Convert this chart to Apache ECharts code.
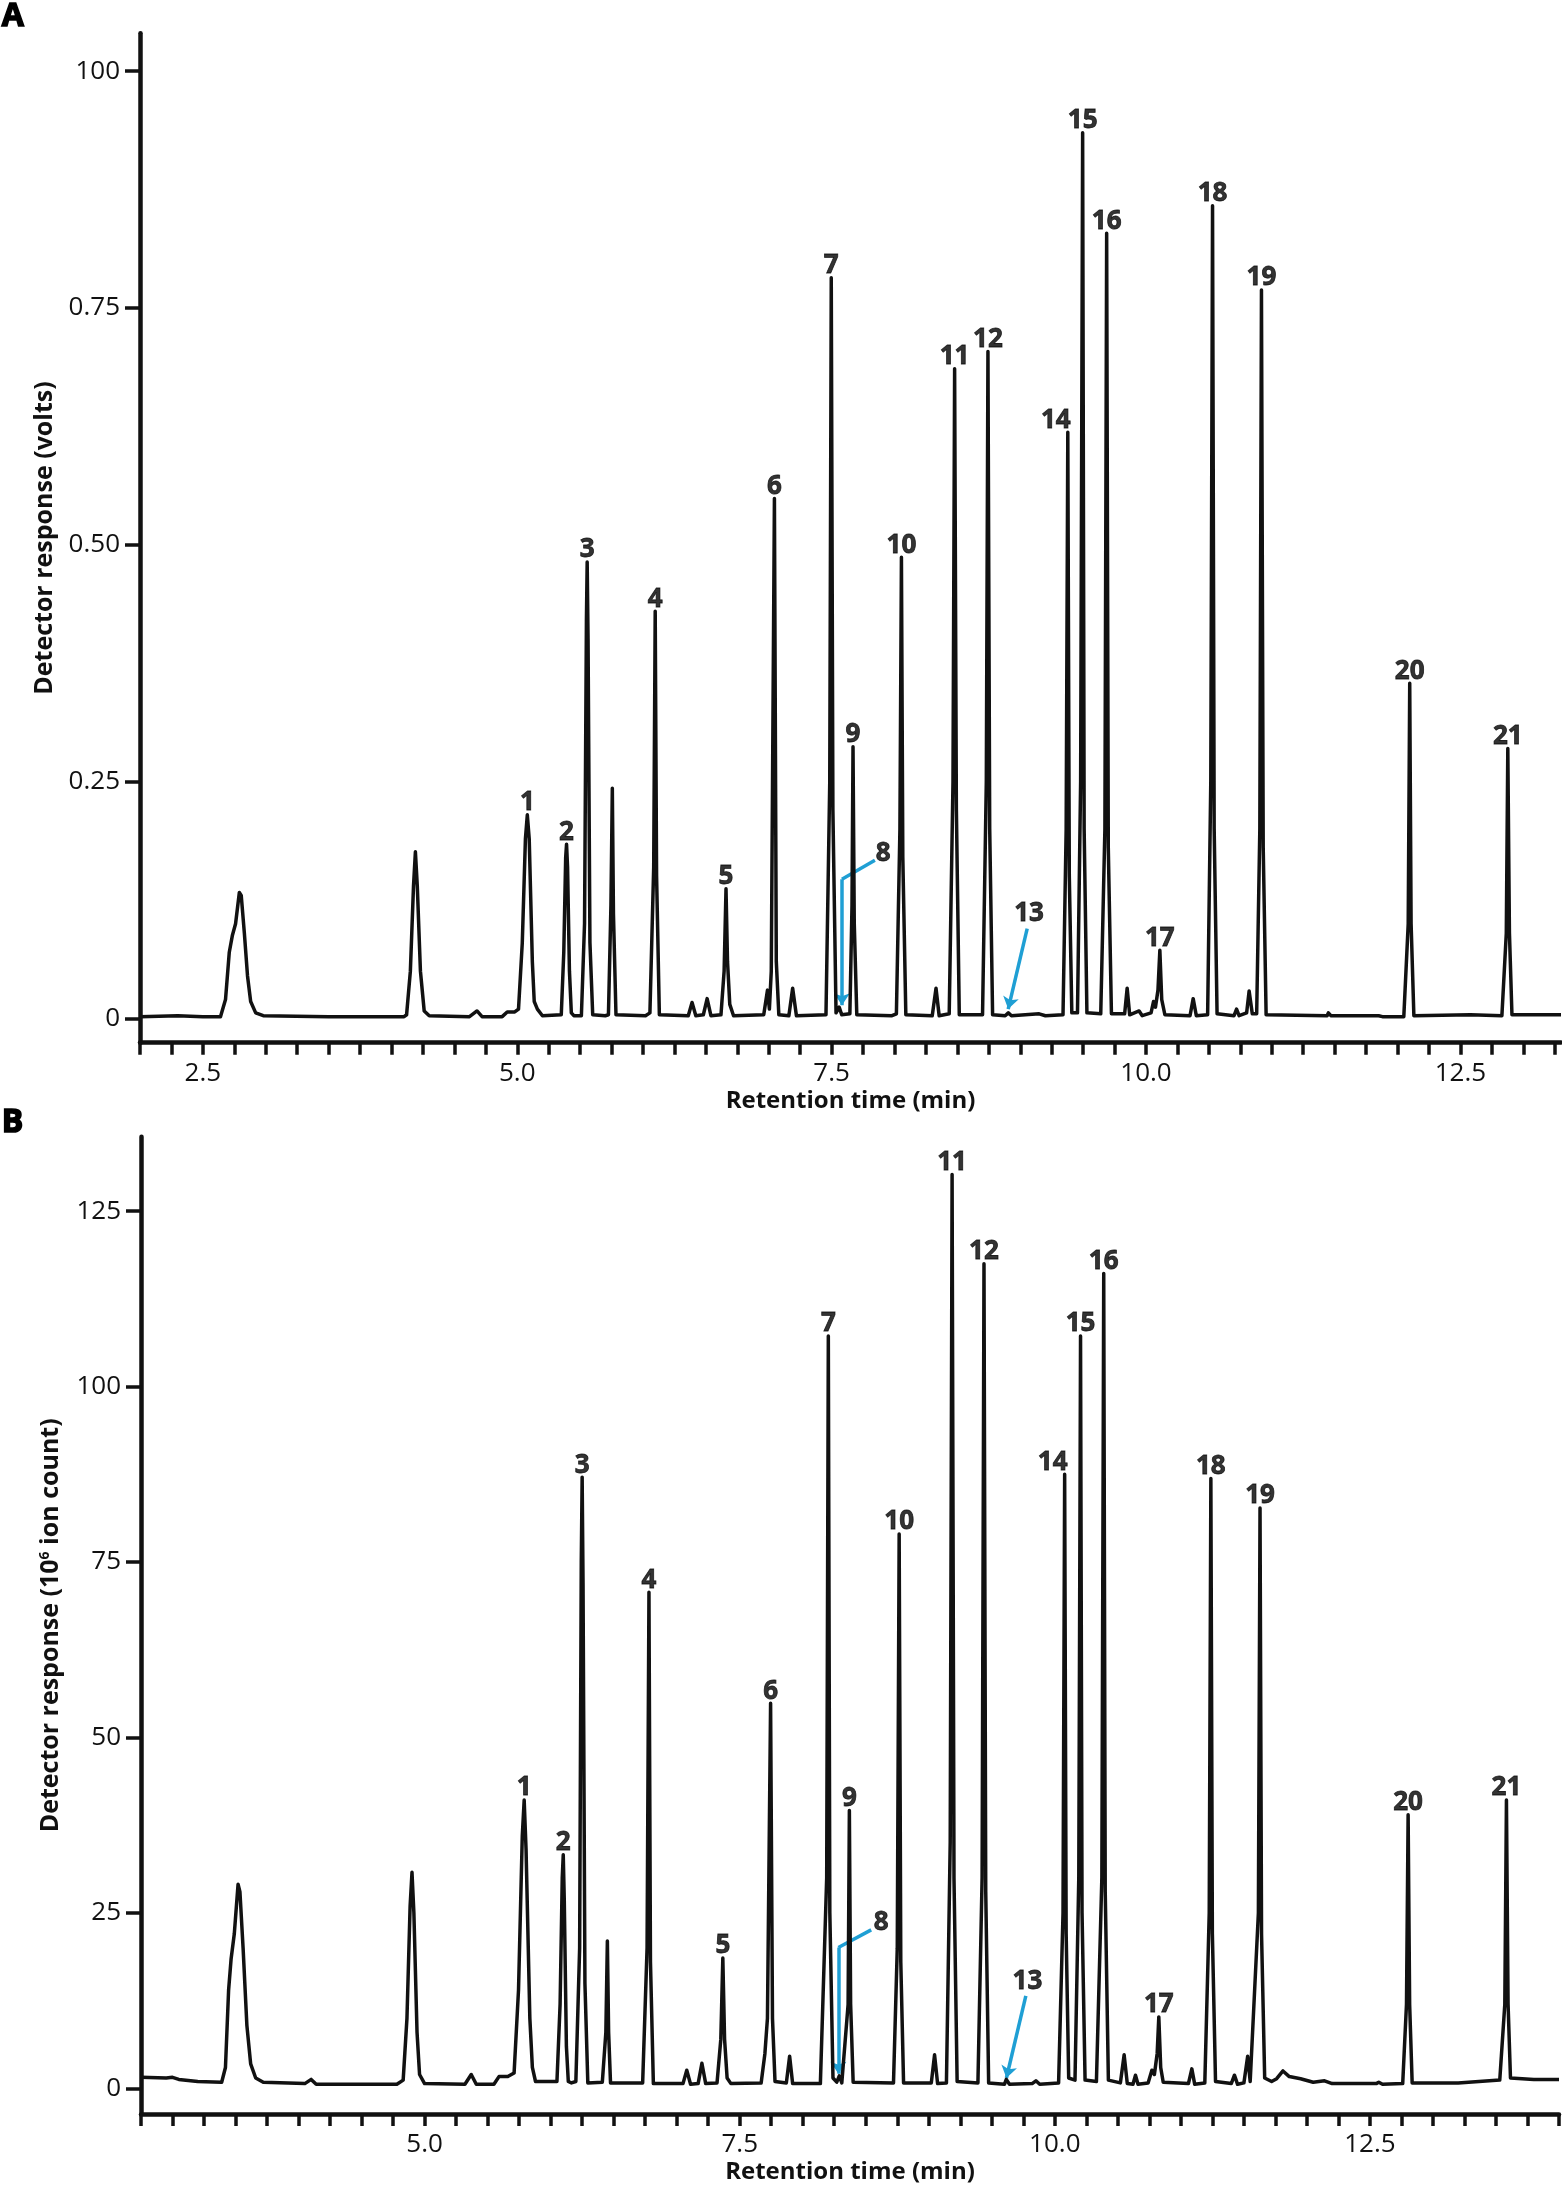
<!DOCTYPE html>
<html>
<head>
<meta charset="utf-8">
<title>Chromatograms A / B</title>
<script src="https://cdn.jsdelivr.net/npm/echarts@6/dist/echarts.min.js"></script>
<style>
  html, body { margin: 0; padding: 0; background: #fff; }
  #main { width: 1562px; height: 2187px; }
</style>
</head>
<body>
<div id="main"></div>
<script>
// ---- panel A : detector trace, [retention time (min), response (volts)] ----
var traceA = [
  [2.0, 0.002], [2.3, 0.003], [2.5, 0.002], [2.64, 0.002],
  [2.68, 0.02], [2.71, 0.07], [2.735, 0.088], [2.76, 0.1], [2.79, 0.133], [2.805, 0.13],
  [2.83, 0.09], [2.855, 0.045], [2.88, 0.018], [2.92, 0.006], [2.98, 0.003],
  [3.5, 0.002], [4.1, 0.002],
  [4.12, 0.004], [4.15, 0.05], [4.175, 0.14], [4.19, 0.176], [4.205, 0.14], [4.23, 0.05], [4.26, 0.008], [4.3, 0.003],
  [4.62, 0.002], [4.68, 0.008], [4.72, 0.002], [4.88, 0.002], [4.92, 0.007], [4.98, 0.007], [5.01, 0.01],
  [5.04, 0.08], [5.065, 0.19], [5.08, 0.215], [5.095, 0.19], [5.12, 0.06], [5.135, 0.018], [5.16, 0.01], [5.2, 0.003],
  [5.35, 0.004], [5.37, 0.07], [5.385, 0.17], [5.392, 0.184], [5.40, 0.16], [5.415, 0.05], [5.43, 0.006], [5.45, 0.003],
  [5.51, 0.003], [5.535, 0.1], [5.55, 0.42], [5.556, 0.482], [5.563, 0.4], [5.578, 0.08], [5.6, 0.004], [5.7, 0.003],
  [5.725, 0.004], [5.745, 0.12], [5.756, 0.243], [5.765, 0.11], [5.785, 0.004], [6.02, 0.003],
  [6.055, 0.006], [6.085, 0.16], [6.097, 0.43], [6.108, 0.15], [6.13, 0.004], [6.36, 0.003],
  [6.39, 0.017], [6.42, 0.003], [6.48, 0.004], [6.51, 0.021], [6.54, 0.003], [6.62, 0.004],
  [6.645, 0.05], [6.66, 0.137], [6.672, 0.06], [6.69, 0.015], [6.72, 0.003],
  [6.96, 0.004], [6.99, 0.03], [7.005, 0.01], [7.02, 0.05], [7.045, 0.549], [7.06, 0.06], [7.08, 0.004],
  [7.16, 0.003], [7.19, 0.032], [7.22, 0.003],
  [7.455, 0.004], [7.485, 0.25], [7.497, 0.782], [7.51, 0.22], [7.535, 0.006], [7.56, 0.012], [7.58, 0.004],
  [7.645, 0.005], [7.662, 0.12], [7.67, 0.287], [7.68, 0.1], [7.70, 0.004], [7.98, 0.003],
  [8.015, 0.005], [8.043, 0.2], [8.055, 0.487], [8.066, 0.17], [8.09, 0.004], [8.3, 0.003], [8.33, 0.032], [8.355, 0.003],
  [8.435, 0.005], [8.465, 0.25], [8.478, 0.686], [8.492, 0.22], [8.515, 0.004],
  [8.70, 0.004], [8.73, 0.25], [8.743, 0.704], [8.757, 0.2], [8.78, 0.004],
  [8.88, 0.003], [8.905, 0.006], [8.93, 0.003], [9.15, 0.005], [9.2, 0.003], [9.34, 0.004],
  [9.365, 0.2], [9.378, 0.619], [9.39, 0.15], [9.41, 0.006], [9.455, 0.006],
  [9.48, 0.25], [9.496, 0.935], [9.508, 0.2], [9.53, 0.006], [9.64, 0.005],
  [9.673, 0.2], [9.687, 0.829], [9.70, 0.18], [9.725, 0.005], [9.83, 0.005], [9.85, 0.032], [9.87, 0.004],
  [9.945, 0.008], [9.97, 0.003], [10.04, 0.006], [10.06, 0.018], [10.075, 0.012],
  [10.095, 0.03], [10.11, 0.072], [10.125, 0.02], [10.15, 0.004], [10.35, 0.003], [10.375, 0.021], [10.4, 0.003], [10.49, 0.004],
  [10.515, 0.25], [10.529, 0.858], [10.542, 0.2], [10.565, 0.005], [10.7, 0.003], [10.72, 0.01], [10.74, 0.003],
  [10.8, 0.006], [10.82, 0.029], [10.845, 0.005], [10.88, 0.005],
  [10.905, 0.2], [10.918, 0.769], [10.932, 0.18], [10.955, 0.004], [11.44, 0.003], [11.45, 0.006], [11.47, 0.003],
  [11.85, 0.003], [11.86, 0.005], [11.88, 0.002], [12.05, 0.002],
  [12.085, 0.1], [12.097, 0.354], [12.108, 0.1], [12.13, 0.003], [12.58, 0.004], [12.83, 0.003],
  [12.865, 0.09], [12.877, 0.285], [12.89, 0.09], [12.91, 0.004], [13.1, 0.004], [13.3, 0.004]
];

// ---- panel B : MS trace, [retention time (min), 10^6 ion count] ----
var traceB = [
  [2.75, 1.6], [2.95, 1.5], [3.0, 1.6], [3.05, 1.3], [3.2, 1.0], [3.39, 0.9],
  [3.42, 3], [3.445, 14], [3.465, 18.5], [3.49, 22], [3.52, 29.1], [3.535, 28], [3.56, 20], [3.59, 9],
  [3.62, 3.5], [3.66, 1.5], [3.72, 0.9],
  [4.05, 0.7], [4.10, 1.3], [4.14, 0.6], [4.78, 0.6],
  [4.83, 1.2], [4.86, 10], [4.885, 26], [4.90, 30.8], [4.915, 25], [4.94, 8], [4.96, 2], [5.0, 0.7],
  [5.32, 0.6], [5.37, 2.0], [5.41, 0.6], [5.55, 0.6], [5.59, 1.7], [5.66, 1.7], [5.71, 2.2],
  [5.745, 14], [5.775, 36], [5.79, 41.1], [5.805, 34], [5.835, 10], [5.855, 3], [5.88, 1.0],
  [6.05, 1], [6.075, 12], [6.092, 30], [6.10, 33.3], [6.108, 27], [6.125, 6], [6.14, 1.0], [6.165, 0.8],
  [6.20, 1], [6.23, 20], [6.243, 75], [6.25, 87.1], [6.257, 72], [6.272, 15], [6.295, 0.8], [6.41, 0.9],
  [6.438, 8], [6.45, 21.0], [6.46, 8], [6.475, 0.8], [6.73, 0.8],
  [6.765, 20], [6.78, 70.7], [6.792, 18], [6.815, 0.7], [7.05, 0.7], [7.08, 2.6], [7.11, 0.6],
  [7.17, 0.7], [7.20, 3.6], [7.23, 0.7], [7.32, 0.8],
  [7.35, 7], [7.366, 18.6], [7.38, 7], [7.4, 1.5], [7.43, 0.7], [7.67, 0.8], [7.70, 5.0], [7.72, 10],
  [7.745, 54.9], [7.76, 10], [7.78, 1.0], [7.87, 0.8], [7.896, 4.6], [7.92, 0.7], [8.14, 0.7],
  [8.19, 30], [8.203, 107.2], [8.215, 25], [8.24, 1.5], [8.27, 0.9], [8.29, 1.8], [8.31, 0.8],
  [8.36, 12], [8.37, 39.6], [8.38, 12], [8.4, 0.9], [8.72, 0.8],
  [8.75, 20], [8.765, 79.0], [8.778, 18], [8.80, 0.8], [9.02, 0.8], [9.046, 4.8], [9.07, 0.7], [9.14, 0.8],
  [9.17, 35], [9.185, 130.2], [9.2, 30], [9.225, 1], [9.39, 0.8],
  [9.423, 30], [9.438, 117.5], [9.452, 28], [9.475, 0.8], [9.6, 0.6], [9.615, 1.3], [9.64, 0.6],
  [9.82, 0.7], [9.85, 1.1], [9.88, 0.6], [10.03, 0.8],
  [10.065, 25], [10.078, 87.5], [10.09, 22], [10.11, 1.5], [10.16, 1.2],
  [10.19, 30], [10.204, 107.2], [10.216, 25], [10.24, 1.2], [10.33, 1.0],
  [10.373, 30], [10.388, 116.1], [10.4, 28], [10.425, 1.2], [10.52, 0.8], [10.55, 4.8], [10.575, 0.7],
  [10.62, 0.6], [10.64, 1.9], [10.66, 0.6], [10.74, 0.8], [10.77, 2.6], [10.79, 2.0],
  [10.812, 5], [10.825, 10.2], [10.84, 3], [10.86, 0.9], [11.06, 0.7], [11.087, 2.8], [11.11, 0.6], [11.19, 0.8],
  [11.225, 25], [11.238, 86.9], [11.25, 22], [11.275, 1.0], [11.4, 0.7], [11.425, 1.9], [11.45, 0.6],
  [11.5, 0.8], [11.53, 4.6], [11.55, 1.0],
  [11.615, 25], [11.628, 82.7], [11.64, 22], [11.665, 1.5], [11.72, 1.0], [11.76, 1.4], [11.81, 2.5],
  [11.86, 1.7], [11.95, 1.4], [12.05, 0.9], [12.14, 1.1], [12.2, 0.7], [12.55, 0.7], [12.57, 0.9],
  [12.6, 0.6], [12.76, 0.7],
  [12.79, 12], [12.803, 39.0], [12.815, 12], [12.835, 0.8], [13.2, 0.8], [13.53, 1.2],
  [13.57, 12], [13.583, 41.1], [13.596, 12], [13.615, 1.5], [13.8, 1.3], [14.0, 1.3]
];

// peak numbers and their apex [time, height]
var peakIdsA = ['1','2','3','4','5','6','7','9','10','11','12','14','15','16','17','18','19','20','21'];
var peakApexA = [
  [5.08, 0.215], [5.392, 0.184], [5.556, 0.482], [6.097, 0.43], [6.66, 0.137], [7.045, 0.549],
  [7.497, 0.782], [7.67, 0.287], [8.055, 0.487], [8.478, 0.686], [8.743, 0.704], [9.378, 0.619],
  [9.496, 0.935], [9.687, 0.829], [10.11, 0.072], [10.529, 0.858], [10.918, 0.769], [12.097, 0.354],
  [12.877, 0.285]
];
var peakIdsB = peakIdsA;
var peakApexB = [
  [5.79, 41.1], [6.10, 33.3], [6.25, 87.1], [6.78, 70.7], [7.366, 18.6], [7.745, 54.9],
  [8.203, 107.2], [8.37, 39.6], [8.765, 79.0], [9.185, 130.2], [9.438, 117.5], [10.078, 87.5],
  [10.204, 107.2], [10.388, 116.1], [10.825, 10.2], [11.238, 86.9], [11.628, 82.7], [12.803, 39.0],
  [13.583, 41.1]
];

// trace peaks 8 and 13: label spot and arrow path
var arrowIds = ['8', '13'];
var arrowLabelA = [[7.91, 0.174], [9.07, 0.111]];
var arrowPathA = [
  [[7.844, 0.167], [7.582, 0.147], [7.582, 0.014]],
  [[9.055, 0.095], [8.904, 0.010]]
];
var arrowLabelB = [[8.622, 23.7], [9.783, 15.3]];
var arrowPathB = [
  [[8.543, 22.6], [8.283, 20.1], [8.283, 2.1]],
  [[9.77, 13.2], [9.616, 1.5]]
];

// tick labels
var xLabelsA = [2.5, 5.0, 7.5, 10.0, 12.5];
var xLabelsB = [5.0, 7.5, 10.0, 12.5];
var yTicksA = [0, 0.25, 0.5, 0.75, 1.0];
var yTickTextA = ['0', '0.25', '0.50', '0.75', '100'];
var yTicksB = [0, 25, 50, 75, 100, 125];

var FONT = '"Open Sans", "DejaVu Sans", sans-serif';
var INK = '#111';
var BLUE = '#1f9fd4';

// x ticks every 0.25 min inside the axis range
function quarterTicks(from, to) {
  var out = [];
  for (var i = Math.ceil(from * 4 - 1e-6); i <= Math.floor(to * 4 + 1e-6); i++) out.push(i / 4);
  return out;
}

function xAxisFor(gridIndex, min, max, labels) {
  return {
    type: 'value', gridIndex: gridIndex, min: min, max: max,
    name: 'Retention time (min)', nameLocation: 'middle', nameGap: 46,
    nameTextStyle: { fontFamily: FONT, fontWeight: 'bold', fontSize: 24, color: INK },
    axisLine: { show: true, onZero: false, lineStyle: { color: INK, width: 4.5 } },
    axisTick: { show: true, customValues: quarterTicks(min, max), length: 12, lineStyle: { color: INK, width: 3.5 } },
    axisLabel: {
      show: true, customValues: labels, margin: 18,
      fontFamily: FONT, fontSize: 26, fontWeight: 500, color: INK,
      formatter: function (v) { return v.toFixed(1); }
    },
    splitLine: { show: false }
  };
}

function yAxisFor(gridIndex, min, max, ticks, texts, name) {
  return {
    type: 'value', gridIndex: gridIndex, min: min, max: max,
    name: name, nameLocation: 'middle', nameGap: 78, nameRotate: 90,
    nameTextStyle: {
      fontFamily: FONT, fontWeight: 'bold', fontSize: 25, color: INK,
      rich: {
        b: { fontFamily: FONT, fontWeight: 'bold', fontSize: 25, color: INK },
        sup: { fontFamily: FONT, fontWeight: 'bold', fontSize: 14, color: INK, verticalAlign: 'top', lineHeight: 25, padding: [0, 0, 10, 0] }
      }
    },
    axisLine: { show: true, lineStyle: { color: INK, width: 4.5 } },
    axisTick: { show: true, customValues: ticks, length: 15, lineStyle: { color: INK, width: 3.5 } },
    axisLabel: {
      show: true, customValues: ticks, margin: 20,
      fontFamily: FONT, fontSize: 26, fontWeight: 500, color: INK,
      formatter: function (v) {
        var k = ticks.indexOf(v);
        return texts ? texts[k] : String(v);
      }
    },
    splitLine: { show: false }
  };
}

function traceSeries(idx, data) {
  return {
    type: 'line', xAxisIndex: idx, yAxisIndex: idx, data: data,
    symbol: 'none', silent: true,
    lineStyle: { color: INK, width: 3.5, join: 'round' }
  };
}

var hidden = { color: 'rgba(0,0,0,0)' };
var peakFont = {
  fontFamily: FONT, fontWeight: 'bold', fontSize: 26, color: '#000',
  textBorderColor: '#000', textBorderWidth: 0.8
};

function peakLabelSeries(idx, ids, apex) {
  return {
    type: 'scatter', xAxisIndex: idx, yAxisIndex: idx, symbolSize: 2,
    itemStyle: hidden, silent: true, z: 5,
    data: ids.map(function (id, i) {
      var item = { name: id, value: apex[i] };
      if (id === '14') item.label = { offset: [-12, 0] };
      return item;
    }),
    label: Object.assign({ show: true, position: 'top', distance: -2, formatter: '{b}' }, peakFont)
  };
}

function arrowLabelSeries(idx, spots) {
  return {
    type: 'scatter', xAxisIndex: idx, yAxisIndex: idx, symbolSize: 2,
    itemStyle: hidden, silent: true, z: 5,
    data: arrowIds.map(function (id, i) { return { name: id, value: spots[i] }; }),
    label: Object.assign({ show: true, position: 'inside', formatter: '{b}' }, peakFont)
  };
}

function arrowSeries(idx, paths) {
  // bent part (no head) + last straight segment with head
  var bends = [], heads = [];
  paths.forEach(function (p) {
    for (var i = 0; i < p.length - 2; i++) bends.push({ coords: [p[i], p[i + 1]] });
    heads.push({ coords: [p[p.length - 2], p[p.length - 1]] });
  });
  var common = {
    type: 'lines', coordinateSystem: 'cartesian2d', xAxisIndex: idx, yAxisIndex: idx,
    silent: true,
    lineStyle: { color: BLUE, width: 3.5, opacity: 1 }
  };
  return [
    Object.assign({}, common, { data: bends, symbol: ['none', 'none'] }),
    Object.assign({}, common, { data: heads, symbol: ['none', 'arrow'], symbolSize: [0, 12] })
  ];
}

var chart = echarts.init(document.getElementById('main'));

chart.setOption({
  animation: false,
  graphic: [
    { type: 'text', left: 1, top: 0, style: { text: 'A', font: 'bold 32px ' + FONT, fill: '#000', stroke: '#000', lineWidth: 1.5 } },
    { type: 'text', left: 1, top: 1106, style: { text: 'B', font: 'bold 32px ' + FONT, fill: '#000', stroke: '#000', lineWidth: 1.5 } }
  ],
  grid: [
    { left: 140, top: 33.3, width: 1421, height: 1009.4 },
    { left: 141, top: 1136.7, width: 1418, height: 977.3 }
  ],
  xAxis: [
    xAxisFor(0, 2.0, 13.3, xLabelsA),
    xAxisFor(1, 2.75, 14.0, xLabelsB)
  ],
  yAxis: [
    yAxisFor(0, -0.0255, 1.04, yTicksA, yTickTextA, '{b|Detector response (volts)}'),
    yAxisFor(1, -3.63, 135.6, yTicksB, null, '{b|Detector response (10}{sup|6}{b| ion count)}')
  ],
  series: [
    traceSeries(0, traceA),
    traceSeries(1, traceB),
    peakLabelSeries(0, peakIdsA, peakApexA),
    peakLabelSeries(1, peakIdsB, peakApexB),
    arrowLabelSeries(0, arrowLabelA),
    arrowLabelSeries(1, arrowLabelB)
  ].concat(arrowSeries(0, arrowPathA), arrowSeries(1, arrowPathB))
});
</script>
</body>
</html>
